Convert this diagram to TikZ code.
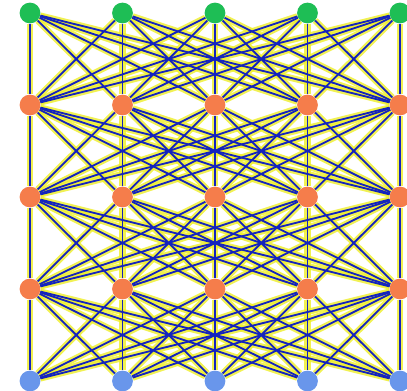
\documentclass[tikz,border=0pt]{standalone}
\usepackage{xcolor}
\definecolor{nodegreen}{RGB}{30,190,85}
\definecolor{nodeorange}{RGB}{245,125,75}
\definecolor{nodeblue}{RGB}{105,150,235}
\definecolor{edgeblue}{RGB}{20,35,190}
\definecolor{glowyellow}{RGB}{238,238,40}
\usepackage{tikz}
\usetikzlibrary{backgrounds}

\begin{document}
\begin{tikzpicture}[
  neuron/.style={circle, minimum size=0.52cm, inner sep=0pt},
  glow/.style={glowyellow, line width=4.5pt, opacity=0.8},
  link/.style={edgeblue, line width=1.3pt}
]
  \useasboundingbox (0,0) rectangle (10.175,9.775);

  % neurons: row 1 green, rows 2-4 orange, row 5 blue
  \foreach \r/\col in {1/nodegreen,2/nodeorange,3/nodeorange,4/nodeorange,5/nodeblue} {
    \foreach \c in {1,...,5} {
      \node[neuron, fill=\col] (n-\r-\c) at ({0.75+2.3125*(\c-1)},{9.45-2.3*(\r-1)}) {};
    }
  }

  \begin{scope}[on background layer]
    \foreach \r [evaluate=\r as \s using int(\r+1)] in {1,...,4}
      \foreach \a in {1,...,5}
        \foreach \b in {1,...,5}
          \draw[glow] (n-\r-\a) -- (n-\s-\b);
    \foreach \r [evaluate=\r as \s using int(\r+1)] in {1,...,4}
      \foreach \a in {1,...,5}
        \foreach \b in {1,...,5}
          \draw[link] (n-\r-\a) -- (n-\s-\b);
  \end{scope}
\end{tikzpicture}
\end{document}
